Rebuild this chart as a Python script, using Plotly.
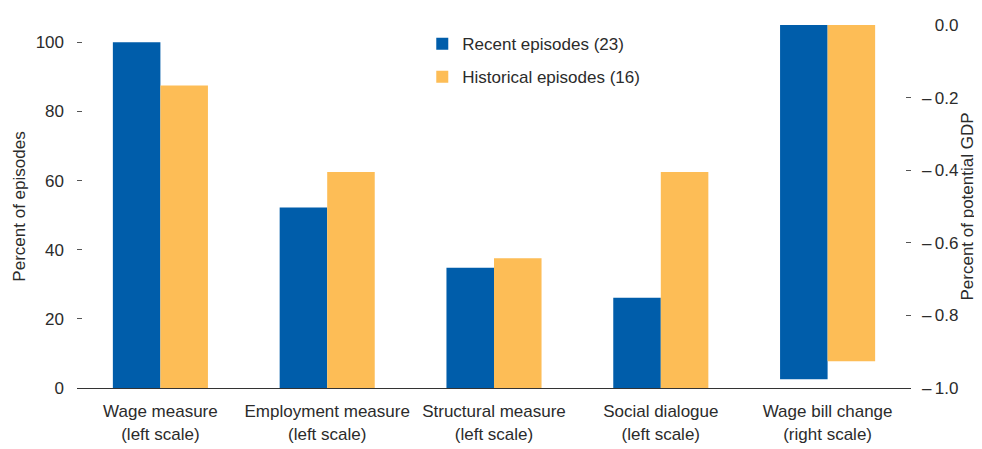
import plotly.graph_objects as go

categories = ["Wage measure<br>(left scale)", "Employment measure<br>(left scale)",
              "Structural measure<br>(left scale)", "Social dialogue<br>(left scale)",
              "Wage bill change<br>(right scale)"]
left_categories = categories[:4]
right_categories = categories[4:]

recent_left = [100.0, 52.2, 34.8, 26.1]
historical_left = [87.5, 62.5, 37.5, 62.5]
recent_right = [-0.976]
historical_right = [-0.926]

left_ticks = [0, 20, 40, 60, 80, 100]
right_ticks = [0.0, -0.2, -0.4, -0.6, -0.8, -1.0]
right_ticktext = ["\u2007\u20090.0", "\u2013\u20090.2", "\u2013\u20090.4", "\u2013\u20090.6", "\u2013\u20090.8", "\u2013\u20091.0"]

BLUE = "#005DAA"
GOLD = "#FDBD56"
TXT = "#2b2b2b"
FONT = "Liberation Sans, Arial, sans-serif"
FS = 17
W = 0.285

fig = go.Figure()
fig.add_trace(go.Bar(x=left_categories, y=recent_left, name="Recent episodes (23)",
                     marker=dict(color=BLUE, line=dict(width=0)), width=W, offset=-W,
                     legendgroup="a"))
fig.add_trace(go.Bar(x=left_categories, y=historical_left, name="Historical episodes (16)",
                     marker=dict(color=GOLD, line=dict(width=0)), width=W, offset=0,
                     legendgroup="b"))
fig.add_trace(go.Bar(x=right_categories, y=recent_right, yaxis="y2", showlegend=False,
                     marker=dict(color=BLUE, line=dict(width=0)), width=W, offset=-W))
fig.add_trace(go.Bar(x=right_categories, y=historical_right, yaxis="y2", showlegend=False,
                     marker=dict(color=GOLD, line=dict(width=0)), width=W, offset=0))

fig.update_layout(
    width=974, height=441,
    margin=dict(l=69, r=71, t=17, b=61, pad=0),
    paper_bgcolor="white", plot_bgcolor="white",
    font=dict(family=FONT, size=FS, color=TXT),
    barmode="overlay",
    xaxis=dict(categoryorder="array", categoryarray=categories, showgrid=False,
               showline=True, linecolor="#333333", linewidth=1, ticks="",
               tickangle=0, automargin=False, ticklabelstandoff=8,
               tickfont=dict(size=FS, color=TXT), zeroline=False),
    yaxis=dict(range=[0, 105], tickvals=left_ticks, showgrid=False, zeroline=False,
               ticks="inside", ticklen=5, tickcolor="#555555", showline=False,
               ticklabelstandoff=12, automargin=False,
               title=dict(text="Percent of episodes", standoff=5, font=dict(size=FS))),
    yaxis2=dict(range=[-1.0, 0.0], overlaying="y", side="right", tickvals=right_ticks,
                ticktext=right_ticktext, showgrid=False, zeroline=False,
                ticks="inside", ticklen=5, tickcolor="#555555", showline=False,
                ticklabelstandoff=10, automargin=False,
                title=dict(text="Percent of potential GDP", standoff=0, font=dict(size=FS))),
    legend=dict(x=0.414, y=0.997, xanchor="left", yanchor="top", bgcolor="rgba(0,0,0,0)",
                font=dict(size=FS), tracegroupgap=8, itemwidth=30),
    showlegend=True,
)

fig.write_html("out.html")
